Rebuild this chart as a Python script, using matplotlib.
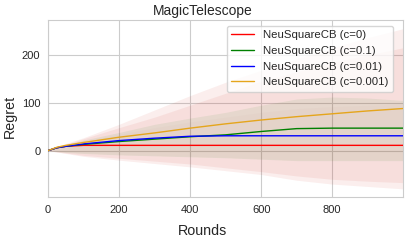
"""
Regret curves on MagicTelescope

"""
import matplotlib
matplotlib.use('Agg')
import matplotlib.pyplot as plt
import seaborn as sns

# =============================================================================
#     Data
# =============================================================================

rounds = [0, 25, 50, 100, 200, 300, 400, 500, 600, 700, 800, 900, 999]

labels = ['NeuSquareCB (c=0)', 'NeuSquareCB (c=0.1)',
          'NeuSquareCB (c=0.01)', 'NeuSquareCB (c=0.001)']
colors = ['red', 'green', 'blue', '#e5a51c']
# shade colours of the spread bands (they read pink / brown in the figure)
band_colors = ['#cd2b1e', 'green', '#a08070', '#cd2b1e']
band_alpha = [0.08, 0.07, 0.03, 0.08]

mean_c0 = [0, 6, 9, 11, 11, 11, 11, 11, 11, 11, 11, 11, 11]
mean_c01 = [0, 6, 9, 13, 19, 24, 29, 33, 40, 46, 47, 47, 47]
mean_c001 = [0, 6, 9, 14, 21, 26, 30, 31, 31, 31, 31, 31, 31]
mean_c0001 = [0, 7, 11, 17, 28, 37, 47, 56, 64, 71, 77, 83, 88]

upper_c0 = [0, 8, 15, 27, 55, 85, 115, 143, 168, 192, 215, 236, 255]
lower_c0 = [0, -3, -6, -12, -20, -27, -34, -42, -50, -62, -70, -75, -80]
upper_c01 = [0, 7, 12, 22, 38, 55, 68, 80, 95, 108, 112, 110, 105]
lower_c01 = [0, -2, -4, -6, -9, -11, -13, -15, -18, -21, -21, -21, -21]
upper_c001 = [0, 6, 11, 20, 34, 48, 60, 70, 80, 88, 92, 95, 98]
lower_c001 = [0, -2, -3, -5, -8, -10, -12, -14, -17, -20, -20, -20, -20]
upper_c0001 = [0, 7, 13, 25, 48, 70, 95, 120, 145, 165, 185, 200, 215]
lower_c0001 = [0, -3, -5, -10, -16, -22, -28, -36, -44, -53, -60, -64, -67]

means = [mean_c0, mean_c01, mean_c001, mean_c0001]
uppers = [upper_c0, upper_c01, upper_c001, upper_c0001]
lowers = [lower_c0, lower_c01, lower_c001, lower_c0001]

# =============================================================================
#     Plot
# =============================================================================

sns.set_style('whitegrid')
plt.rcParams['font.family'] = ['Liberation Sans', 'DejaVu Sans']

fig, ax = plt.subplots(figsize=(4.07, 2.42), dpi=100)
fig.subplots_adjust(left=0.118, right=0.990, top=0.917, bottom=0.186)

for i in range(len(means)):
    ax.plot(rounds, means[i], color=colors[i], linewidth=1.0,
            label=labels[i], zorder=3)
    ax.fill_between(rounds, lowers[i], uppers[i], color=band_colors[i],
                    alpha=band_alpha[i], linewidth=0)

ax.set_xlim(0, 999)
ax.set_ylim(-97, 273)
ax.set_xticks([0, 200, 400, 600, 800])
ax.set_yticks([0, 100, 200])
ax.tick_params(labelsize=8, pad=2)

ax.set_title('MagicTelescope', fontsize=10, pad=4, x=0.4355)
ax.set_xlabel('Rounds', fontsize=10.3)
ax.xaxis.set_label_coords(0.4355, -0.15)
ax.set_ylabel('Regret', fontsize=10.3)
ax.yaxis.set_label_coords(-0.089, 0.458)
ax.legend(loc='upper right', bbox_to_anchor=(0.988, 1.0), fontsize=8.2,
          labelspacing=0.5, borderaxespad=0.5)

plt.savefig('out.png', dpi=100)
